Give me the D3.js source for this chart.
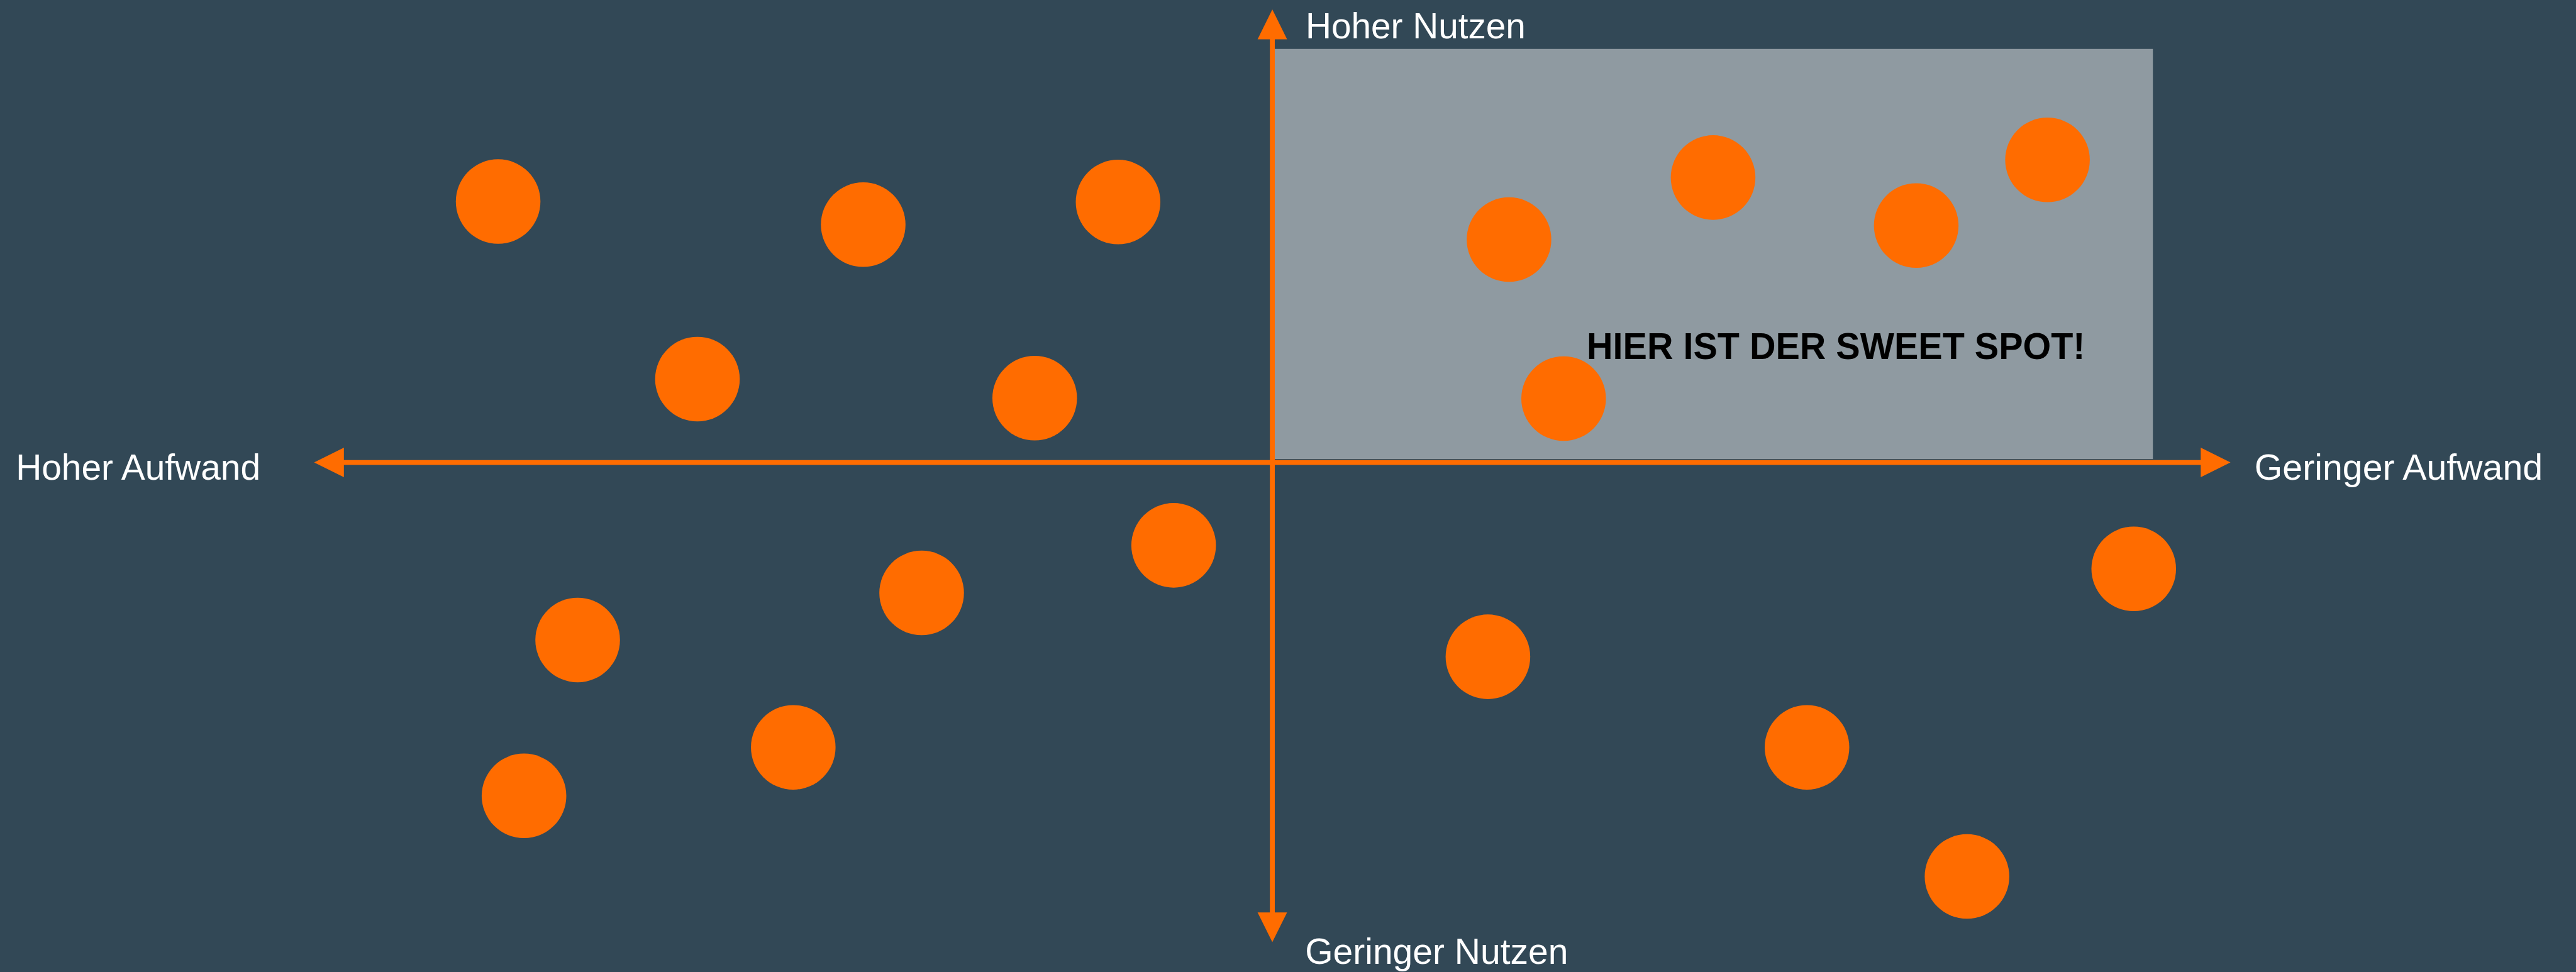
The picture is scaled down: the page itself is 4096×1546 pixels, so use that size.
<!DOCTYPE html>
<html>
<head>
<meta charset="utf-8">
<script src="https://cdn.jsdelivr.net/npm/d3@7"></script>
<style>
  html, body { margin: 0; padding: 0; background: #324856; overflow: hidden; }
  svg { display: block; }
</style>
</head>
<body>
<svg id="chart"></svg>
<script>
// ---- data (abstract units: x = Aufwand axis, -100 hoher .. +100 geringer; y = Nutzen axis) ----
const itemNames = ["A1","A2","A3","A4","A5","B1","B2","B3","B4","B5","C1","C2","C3","C4","C5","D1","D2","D3","D4"];
const itemX = [-80.8, -42.7, -16.1, -60.0, -24.8, 24.7, 46.0, 67.2, 80.9, 30.4, -10.3, -36.6, -72.5, -50.0, -78.1, 22.5, 89.9, 55.8, 72.5];
const itemY = [ 57.6,  52.5,  57.5,  18.4,  14.2, 49.2, 62.9, 52.3, 66.8, 14.1, -18.3, -28.8, -39.2, -62.9, -73.6, -42.9, -23.5, -62.9, -91.4];

const axisXExtent = [-100, 100];      // horizontal arrow tips
const axisYExtent = [-105.9, 100];    // vertical arrow tips (bottom, top)
const sweetSpotX = [0, 91.9];
const sweetSpotY = [0.75, 91.3];

const labelTop = "Hoher Nutzen";
const labelBottom = "Geringer Nutzen";
const labelLeft = "Hoher Aufwand";
const labelRight = "Geringer Aufwand";
const sweetSpotLabel = "HIER IST DER SWEET SPOT!";

// ---- layout ----
const S = 0.868;
const W = 4096, H = 1546;
const COLORS = { bg: "#324856", rect: "#8f9aa1", orange: "#ff6c00", text: "#ffffff", dark: "#000000" };
const FONT = "'Liberation Sans', Arial, Helvetica, sans-serif";

const x = d3.scaleLinear().domain([-100, 100]).range([575.5 * S, 4086 * S]);
const y = d3.scaleLinear().domain([-100, 100]).range([1677.4 * S, 17.4 * S]);

const svg = d3.select("#chart").attr("width", W).attr("height", H);
svg.append("rect").attr("width", W).attr("height", H).attr("fill", COLORS.bg);

// sweet spot quadrant
svg.append("rect")
  .attr("x", x(sweetSpotX[0]))
  .attr("y", y(sweetSpotY[1]))
  .attr("width", x(sweetSpotX[1]) - x(sweetSpotX[0]))
  .attr("height", y(sweetSpotY[0]) - y(sweetSpotY[1]))
  .attr("fill", COLORS.rect);

// axes with arrowheads
const lw = 9 * S, headLen = 54.5 * S, headHalf = 27 * S;
const ax = svg.append("g");
const x0 = x(0), y0 = y(0);
const xl = x(axisXExtent[0]), xr = x(axisXExtent[1]);
const yt = y(axisYExtent[1]), yb = y(axisYExtent[0]);

ax.append("line").attr("x1", xl + headLen - 1).attr("x2", xr - headLen + 1)
  .attr("y1", y0).attr("y2", y0).attr("stroke", COLORS.orange).attr("stroke-width", lw);
ax.append("line").attr("x1", x0).attr("x2", x0)
  .attr("y1", yt + headLen - 1).attr("y2", yb - headLen + 1).attr("stroke", COLORS.orange).attr("stroke-width", lw);

const heads = [
  [[xl, y0], [xl + headLen, y0 - headHalf], [xl + headLen, y0 + headHalf]],
  [[xr, y0], [xr - headLen, y0 - headHalf], [xr - headLen, y0 + headHalf]],
  [[x0, yt], [x0 - headHalf, yt + headLen], [x0 + headHalf, yt + headLen]],
  [[x0, yb], [x0 - headHalf, yb - headLen], [x0 + headHalf, yb - headLen]]
];
ax.selectAll("path.head").data(heads).join("path")
  .attr("class", "head")
  .attr("d", d => d3.line()(d) + "Z")
  .attr("fill", COLORS.orange);

// points
const items = itemNames.map((n, i) => ({ name: n, x: itemX[i], y: itemY[i] }));
svg.append("g").selectAll("circle").data(items).join("circle")
  .attr("cx", d => x(d.x))
  .attr("cy", d => y(d.y))
  .attr("r", 77.5 * S)
  .attr("fill", COLORS.orange);

// labels
const fs = 67 * S;
const lab = svg.append("g").attr("font-family", FONT).attr("font-size", fs).attr("fill", COLORS.text);
function addLabel(g, px, py, txt, len) {
  g.append("text").attr("x", px).attr("y", py)
    .attr("textLength", len * S).attr("lengthAdjust", "spacingAndGlyphs")
    .text(txt);
}
addLabel(lab, x0 + 61 * S, 70 * S, labelTop, 403);
addLabel(lab, x0 + 60 * S, 1766.7 * S, labelBottom, 482);
addLabel(lab, 29 * S, y0 + 31.6 * S, labelLeft, 448);
addLabel(lab, xr + 44 * S, y0 + 31.6 * S, labelRight, 528);

svg.append("text")
  .attr("x", x(sweetSpotX[0]) + 576 * S)
  .attr("y", 657.5 * S)
  .attr("font-family", FONT).attr("font-size", 68.5 * S).attr("font-weight", "bold")
  .attr("fill", COLORS.dark)
  .attr("textLength", 913 * S).attr("lengthAdjust", "spacingAndGlyphs")
  .text(sweetSpotLabel);
</script>
</body>
</html>
